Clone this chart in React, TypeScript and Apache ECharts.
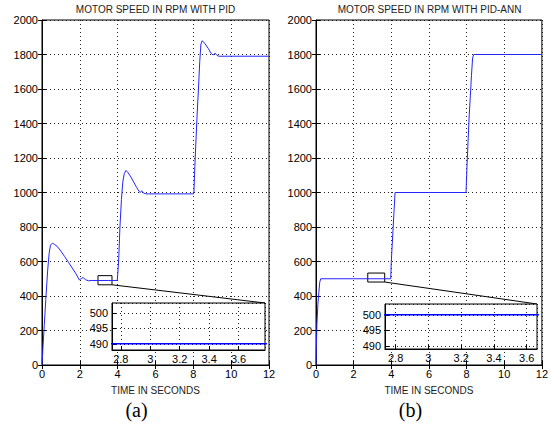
import React, { useEffect, useRef } from 'react';
import * as echarts from 'echarts';

// ---- data ----
const pidTime = [0, 0.05, 0.12, 0.2, 0.3, 0.38, 0.45, 0.55, 0.65, 0.8, 1.0, 1.2, 1.4, 1.6, 1.8, 1.98, 2.08, 2.18, 2.3, 2.45, 2.6, 3.0, 3.5, 3.98, 4.05, 4.12, 4.2, 4.27, 4.35, 4.44, 4.55, 4.7, 4.85, 5.0, 5.14, 5.2, 5.27, 5.35, 5.5, 6.5, 7.5, 8.0, 8.03, 8.08, 8.13, 8.2, 8.27, 8.34, 8.4, 8.47, 8.6, 8.79, 8.95, 9.05, 9.15, 9.25, 9.35, 10, 11, 12];
const pidSpeed = [0, 100, 230, 380, 550, 650, 695, 706, 700, 688, 660, 628, 595, 562, 528, 492, 503, 506, 495, 488, 490, 490, 490, 490, 600, 800, 960, 1060, 1110, 1128, 1115, 1090, 1060, 1030, 1005, 1000, 1010, 998, 992, 992, 992, 992, 1000, 1150, 1280, 1450, 1600, 1760, 1860, 1880, 1865, 1835, 1805, 1797, 1808, 1795, 1790, 1790, 1790, 1790];
const annTime = [0, 0.02, 0.05, 0.1, 0.15, 0.2, 0.25, 2.0, 3.97, 4.0, 4.05, 4.1, 4.15, 4.2, 6.0, 7.97, 8.02, 8.08, 8.14, 8.2, 8.26, 8.32, 8.38, 10, 12];
const annSpeed = [0, 110, 240, 350, 420, 480, 500, 500, 500, 600, 700, 800, 900, 1000, 1000, 1000, 1150, 1300, 1450, 1560, 1680, 1780, 1800, 1800, 1800];

const xRange = [0, 12];
const xStep = 2;
const yRange = [0, 2000];
const yStep = 200;

const titles = ['MOTOR SPEED IN RPM WITH PID', 'MOTOR SPEED IN RPM WITH PID-ANN'];
const panelLabels = ['(a)', '(b)'];
const xLabel = 'TIME IN SECONDS';

// zoom boxes in main plots (data units) and inset ranges
const zoomX = [[2.96, 3.7], [2.75, 3.65]];
const zoomY = [[465, 518], [481, 533]];
const insetX = [[2.74, 3.78], [2.735, 3.663]];
const insetY = [[488, 503.2], [489, 503.5]];

const FONT = 'Liberation Sans, Arial, sans-serif';
const LINE = '#2424ff';

const plain = (v: number) => String(Math.round(v * 1000) / 1000);

export default function App() {
  const ref = useRef<HTMLDivElement>(null);
  useEffect(() => {
    if (!ref.current) return;
    const chart = echarts.init(ref.current, undefined, { renderer: 'svg' });

    const mainGrids = [
      { left: 42, top: 20, width: 227, height: 345 },
      { left: 316, top: 20, width: 227, height: 345 },
    ];
    const insetGrids = [
      { left: 112, top: 303, width: 153, height: 47 },
      { left: 385, top: 304, width: 152, height: 45 },
    ];
    const grid: any[] = [
      ...mainGrids.map((g) => ({ ...g, show: true, borderColor: '#000', borderWidth: 1, backgroundColor: '#fff', z: 0 })),
      ...insetGrids.map((g) => ({ ...g, show: true, borderColor: '#000', borderWidth: 1, backgroundColor: '#fff', z: 10 })),
    ];

    const split = { show: true, lineStyle: { type: [1, 3] as any, color: '#000', width: 1, opacity: 0.85 } };
    const tick = { show: true, inside: true, length: 4, lineStyle: { color: '#000' } };
    const lbl = { color: '#000', fontFamily: FONT, fontSize: 11, formatter: plain };

    const xAxis: any[] = [];
    const yAxis: any[] = [];
    [0, 1].forEach((i) => {
      xAxis.push({
        type: 'value', gridIndex: i, min: xRange[0], max: xRange[1], interval: xStep,
        axisLine: { show: true, lineStyle: { color: '#000' } }, axisTick: tick, splitLine: split,
        axisLabel: { ...lbl, margin: 3 },
        name: xLabel, nameLocation: 'middle', nameGap: 20,
        nameTextStyle: { color: '#222', fontFamily: FONT, fontSize: 10 },
      });
      yAxis.push({
        type: 'value', gridIndex: i, min: yRange[0], max: yRange[1], interval: yStep,
        axisLine: { show: true, lineStyle: { color: '#000' } }, axisTick: tick, splitLine: split,
        axisLabel: { ...lbl, margin: 4 },
      });
    });
    [0, 1].forEach((i) => {
      xAxis.push({
        type: 'value', gridIndex: 2 + i, min: insetX[i][0], max: insetX[i][1], splitNumber: 5,
        z: 11,
        axisLine: { show: true, lineStyle: { color: '#000' } }, axisTick: tick, splitLine: split,
        axisLabel: { ...lbl, margin: 3, showMinLabel: false, showMaxLabel: false },
      });
      yAxis.push({
        type: 'value', gridIndex: 2 + i, min: insetY[i][0], max: insetY[i][1], splitNumber: 3,
        z: 11,
        axisLine: { show: true, lineStyle: { color: '#000' } }, axisTick: tick, splitLine: split,
        axisLabel: { ...lbl, margin: 4, showMinLabel: false, showMaxLabel: false },
      });
    });
    // top/right tick-only axes for main plots
    [0, 1].forEach((i) => {
      xAxis.push({
        type: 'value', gridIndex: i, position: 'top', min: xRange[0], max: xRange[1], interval: xStep,
        axisLine: { show: false }, axisTick: tick, splitLine: { show: false }, axisLabel: { show: false },
      });
      yAxis.push({
        type: 'value', gridIndex: i, position: 'right', min: yRange[0], max: yRange[1], interval: yStep,
        axisLine: { show: false }, axisTick: tick, splitLine: { show: false }, axisLabel: { show: false },
      });
    });

    const pidData = pidTime.map((t, k) => [t, pidSpeed[k]]);
    const annData = annTime.map((t, k) => [t, annSpeed[k]]);
    const datasets = [pidData, annData];

    const series: any[] = [];
    [0, 1].forEach((i) => {
      series.push({
        type: 'line', xAxisIndex: i, yAxisIndex: i, data: datasets[i], showSymbol: false,
        lineStyle: { color: LINE, width: 1 }, z: 2,
        markArea: {
          silent: true,
          itemStyle: { color: 'rgba(0,0,0,0)', borderColor: '#000', borderWidth: 1 },
          data: [[{ coord: [zoomX[i][0], zoomY[i][1]] }, { coord: [zoomX[i][1], zoomY[i][0]] }]],
        },
      });
    });
    [0, 1].forEach((i) => {
      series.push({
        type: 'line', xAxisIndex: 2 + i, yAxisIndex: 2 + i, data: datasets[i], showSymbol: false,
        lineStyle: { color: '#0000ff', width: 1.5 }, z: 12, clip: true,
      });
    });

    chart.setOption({
      animation: false,
      backgroundColor: '#fff',
      grid, xAxis, yAxis, series,
    });

    const graphic: any[] = [];
    [0, 1].forEach((i) => {
      const g = mainGrids[i];
      graphic.push({
        type: 'text', x: g.left + g.width / 2, y: 9, z: 20,
        style: { text: titles[i], fill: '#222', font: `10px ${FONT}`, textAlign: 'center', textVerticalAlign: 'middle' },
      });
      graphic.push({
        type: 'text', x: g.left + g.width / 2 - 19, y: 410, z: 20,
        style: { text: panelLabels[i], fill: '#000', font: `20px Liberation Serif, Times New Roman, serif`, textAlign: 'center', textVerticalAlign: 'middle' },
      });
      const p1 = chart.convertToPixel({ xAxisIndex: i, yAxisIndex: i } as any, [zoomX[i][1], zoomY[i][0]]) as number[];
      const p2 = chart.convertToPixel({ xAxisIndex: 2 + i, yAxisIndex: 2 + i } as any, [insetX[i][1], insetY[i][1]]) as number[];
      graphic.push({
        type: 'line', z: 9,
        shape: { x1: p1[0], y1: p1[1], x2: p2[0], y2: p2[1] },
        style: { stroke: '#000', lineWidth: 1 },
      });
    });
    chart.setOption({ graphic });

    return () => chart.dispose();
  }, []);
  return <div ref={ref} style={{ position: 'absolute', left: 0, top: 0, width: 551, height: 424 }} />;
}
